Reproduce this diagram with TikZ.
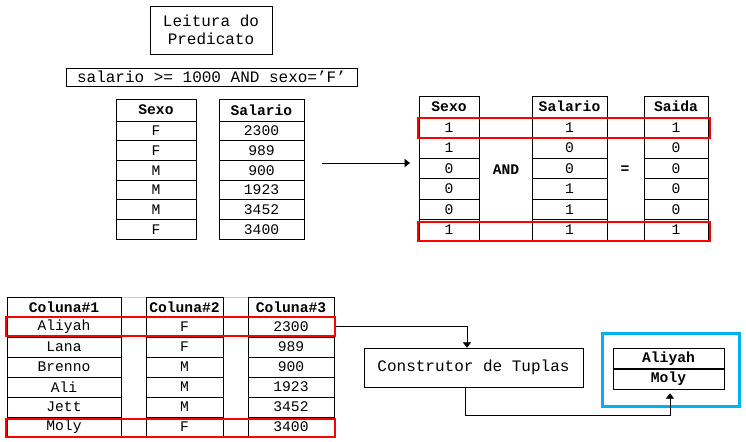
\documentclass[tikz,border=0pt]{standalone}
\usepackage{fontspec}
\newfontfamily\cour{Liberation Mono}
\usetikzlibrary{arrows.meta}
\definecolor{caixaazul}{RGB}{0,176,240}
\newcommand\tabfont{\cour\fontsize{11}{13}\selectfont}
\newcommand\boxfont{\cour\fontsize{12}{13.5}\selectfont}

\tikzset{
  cell/.style={draw, inner sep=0pt, font=\tabfont},
  head/.style={cell, font=\tabfont\bfseries},
  sel/.style={draw=red, line width=1.5pt, inner sep=0pt},
  conn/.style={-{Triangle[length=4pt,width=6pt]}},
}

\begin{document}
\begin{tikzpicture}[x=0.75pt,y=-0.75pt]
        \useasboundingbox (0,0) rectangle (746,442);
        % leitura do predicado
        \node[draw, align=center, font=\boxfont, minimum width=91.5pt, minimum height=36pt] (leitura) at (211,30) {Leitura do\\Predicato};
        \node[draw, font=\boxfont, inner sep=0pt, minimum width=218.25pt, minimum height=13.5pt] (pred) at (211.5,77) {salario >= 1000 AND sexo=’F’};

        % tabelas de entrada
        \node[head, minimum width=60pt, minimum height=16.5pt] (sxh) at (156,110) {Sexo};
        \node[head, minimum width=63.75pt, minimum height=16.5pt] (sah) at (261.5,110) {Salario};
        \foreach \s/\v [count=\i] in {F/2300,F/989,M/900,M/1923,M/3452,F/3400} {
          \node[cell, minimum width=60pt, minimum height=14.75pt] (sx-\i) at (156,{121+19.67*(\i-0.5)}) {\s};
          \node[cell, minimum width=63.75pt, minimum height=14.75pt] (sa-\i) at (261.5,{121+19.67*(\i-0.5)}) {\v};
        }
        \coordinate (a1) at (322,163);
        \coordinate (a2) at (410,163);
        \draw[conn] (a1) -- (a2);

        % bitmaps
        \node[head, minimum width=45pt, minimum height=15.75pt] (bsh) at (449,106.5) {Sexo};
        \node[head, minimum width=56.25pt, minimum height=15.75pt] (bah) at (569.5,106.5) {Salario};
        \node[head, minimum width=48pt, minimum height=15.75pt] (boh) at (676,106.5) {Saida};
        \foreach \a/\b/\c [count=\i] in {1/1/1,1/0/0,0/0/0,0/1/0,0/1/0,1/1/1} {
          \node[cell, minimum width=45pt, minimum height=15.375pt] (bs-\i) at (449,{117+20.5*(\i-0.5)}) {\a};
          \node[cell, minimum width=56.25pt, minimum height=15.375pt] (ba-\i) at (569.5,{117+20.5*(\i-0.5)}) {\b};
          \node[cell, minimum width=48pt, minimum height=15.375pt] (bo-\i) at (676,{117+20.5*(\i-0.5)}) {\c};
        }
        \node[font=\tabfont\bfseries] (and) at (506,170) {AND};
        \node[font=\tabfont\bfseries] (igual) at (625,170) {=};
        \node[sel, minimum width=219pt, minimum height=15pt] (bsel1) at (564,128) {};
        \node[sel, minimum width=219pt, minimum height=14.25pt] (bsel2) at (564,231.5) {};

        % tabela completa
        \draw[gray!40] (7,297) -- (334,297);
        \node[head, minimum width=85.5pt, minimum height=15pt] (c1h) at (64,307) {Coluna\#1};
        \node[head, minimum width=57.75pt, minimum height=15pt] (c2h) at (184.5,307) {Coluna\#2};
        \node[head, minimum width=64.5pt, minimum height=15pt] (c3h) at (291,307) {Coluna\#3};
        \foreach \a/\b/\c [count=\i] in {Aliyah/F/2300,Lana/F/989,Brenno/M/900,Ali/M/1923,Jett/M/3452,Moly/F/3400} {
          \node[cell, minimum width=85.5pt, minimum height=15pt] (c1-\i) at (64,{317+20*(\i-0.5)}) {\a};
          \node[cell, minimum width=57.75pt, minimum height=15pt] (c2-\i) at (184.5,{317+20*(\i-0.5)}) {\b};
          \node[cell, minimum width=64.5pt, minimum height=15pt] (c3-\i) at (291,{317+20*(\i-0.5)}) {\c};
        }
        \node[sel, minimum width=246.75pt, minimum height=14.25pt] (sel1) at (170.5,326.5) {};
        \node[sel, minimum width=246.75pt, minimum height=13.5pt] (sel2) at (170.5,428) {};

        % construtor e resultado
        \node[draw, font=\boxfont, minimum width=164.25pt, minimum height=29.25pt] (cons) at (473.5,367.5) {Construtor de Tuplas};
        \node[draw=caixaazul, line width=2.25pt, minimum width=102.75pt, minimum height=54.75pt] (res) at (670.5,369.5) {};
        \node[head, minimum width=83.25pt, minimum height=15.75pt] (res1) at (668.5,358.5) {Aliyah};
        \node[head, minimum width=83.25pt, minimum height=15pt] (res2) at (668.5,379) {Moly};
        \draw[line width=1.5pt] (res1.south west) -- (res1.south east);

        \draw[conn] (sel1.east) -| ([xshift=-4.9pt]cons.north);
        \draw[conn] ([xshift=-6.4pt]cons.south) -- ++(0,28) -| ([xshift=1.1pt,yshift=-3pt]res2.south);
\end{tikzpicture}
\end{document}
